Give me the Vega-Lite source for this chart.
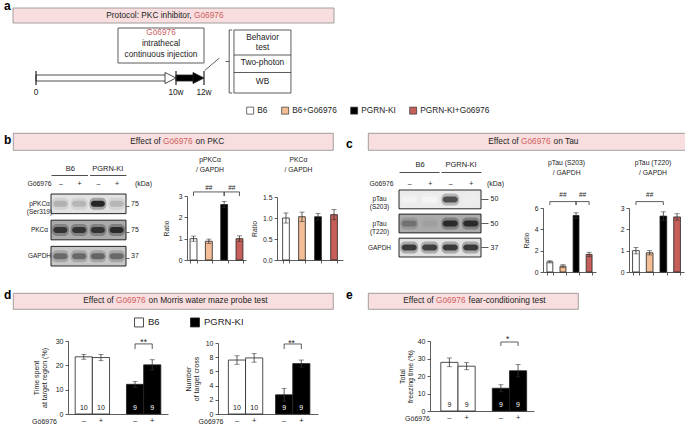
{
  "$schema": "https://vega.github.io/schema/vega-lite/v6.json",
  "background": "white",
  "padding": {"left": 3, "top": 0, "right": 0, "bottom": 0},
  "spacing": 6,
  "config": {
    "font": "Liberation Sans",
    "view": {"stroke": null},
    "axis": {"labelFont": "Liberation Sans", "titleFont": "Liberation Sans", "labelFontSize": 6.8, "titleFontSize": 6.8, "titleFontWeight": "normal", "labelColor": "#222", "titleColor": "#222", "domainColor": "#333", "tickColor": "#333", "domainWidth": 0.8, "tickWidth": 0.8, "tickSize": 3, "labelPadding": 2, "grid": false},
    "title": {"font": "Liberation Sans", "fontSize": 6.8, "fontWeight": "normal", "color": "#222", "lineHeight": 10},
    "legend": {"labelFont": "Liberation Sans", "labelColor": "#222"},
    "text": {"font": "Liberation Sans", "fontSize": 8.3, "color": "#222"}
  },
  "datasets": {
    "legend_groups": [{"group": "B6"}, {"group": "B6+Gö6976"}, {"group": "PGRN-KI"}, {"group": "PGRN-KI+Gö6976"}],
    "phases": [{"phase": "pre-treatment", "start": 0, "end": 10}, {"phase": "Gö6976 infusion", "start": 10, "end": 12}],
    "milestones": [{"week": 0, "label": "0"}, {"week": 10, "label": "10w"}, {"week": 12, "label": "12w"}],
    "protocol": [{"panel": "a", "title": "Protocol: PKC inhibitor,", "drug": "Gö6976", "route": "intrathecal\ncontinuous injection", "readout1": "Behavior\ntest", "readout2": "Two-photon", "readout3": "WB"}],
    "blotB_membranes": [{"protein": "pPKCα (Ser319)", "background": 0.1}, {"protein": "PKCα", "background": 0.3}, {"protein": "GAPDH", "background": 0.2}],
    "blotB": [
      {"protein": "pPKCα (Ser319)", "lane": 1, "signal": 0.3}, {"protein": "pPKCα (Ser319)", "lane": 2, "signal": 0.28}, {"protein": "pPKCα (Ser319)", "lane": 3, "signal": 0.95}, {"protein": "pPKCα (Ser319)", "lane": 4, "signal": 0.28},
      {"protein": "PKCα", "lane": 1, "signal": 0.85}, {"protein": "PKCα", "lane": 2, "signal": 0.85}, {"protein": "PKCα", "lane": 3, "signal": 0.85}, {"protein": "PKCα", "lane": 4, "signal": 0.9},
      {"protein": "GAPDH", "lane": 1, "signal": 0.6}, {"protein": "GAPDH", "lane": 2, "signal": 0.6}, {"protein": "GAPDH", "lane": 3, "signal": 0.62}, {"protein": "GAPDH", "lane": 4, "signal": 0.6}
    ],
    "blotC_membranes": [{"protein": "pTau (S203)", "background": 0.07}, {"protein": "pTau (T220)", "background": 0.3}, {"protein": "GAPDH", "background": 0.1}],
    "blotC": [
      {"protein": "pTau (S203)", "lane": 1, "signal": 0.04}, {"protein": "pTau (S203)", "lane": 2, "signal": 0.03}, {"protein": "pTau (S203)", "lane": 3, "signal": 0.75}, {"protein": "pTau (S203)", "lane": 4, "signal": 0.06},
      {"protein": "pTau (T220)", "lane": 1, "signal": 0.55}, {"protein": "pTau (T220)", "lane": 2, "signal": 0.35}, {"protein": "pTau (T220)", "lane": 3, "signal": 0.9}, {"protein": "pTau (T220)", "lane": 4, "signal": 0.9},
      {"protein": "GAPDH", "lane": 1, "signal": 0.85}, {"protein": "GAPDH", "lane": 2, "signal": 0.82}, {"protein": "GAPDH", "lane": 3, "signal": 0.85}, {"protein": "GAPDH", "lane": 4, "signal": 0.85}
    ],
    "pPKC": [{"group": "B6", "ratio": 1.0, "sem": 0.12}, {"group": "B6+Gö6976", "ratio": 0.88, "sem": 0.1}, {"group": "PGRN-KI", "ratio": 2.6, "sem": 0.15}, {"group": "PGRN-KI+Gö6976", "ratio": 1.0, "sem": 0.13}],
    "PKC": [{"group": "B6", "ratio": 1.0, "sem": 0.12}, {"group": "B6+Gö6976", "ratio": 1.03, "sem": 0.11}, {"group": "PGRN-KI", "ratio": 1.03, "sem": 0.08}, {"group": "PGRN-KI+Gö6976", "ratio": 1.08, "sem": 0.12}],
    "S203": [{"group": "B6", "ratio": 0.95, "sem": 0.1}, {"group": "B6+Gö6976", "ratio": 0.55, "sem": 0.13}, {"group": "PGRN-KI", "ratio": 5.3, "sem": 0.25}, {"group": "PGRN-KI+Gö6976", "ratio": 1.65, "sem": 0.2}],
    "T220": [{"group": "B6", "ratio": 1.0, "sem": 0.15}, {"group": "B6+Gö6976", "ratio": 0.9, "sem": 0.1}, {"group": "PGRN-KI", "ratio": 2.62, "sem": 0.2}, {"group": "PGRN-KI+Gö6976", "ratio": 2.58, "sem": 0.15}],
    "mwm_time": [{"genotype": "B6", "treatment": "–", "value": 23.5, "sem": 1.0, "n": 10}, {"genotype": "B6", "treatment": "+", "value": 23.2, "sem": 1.3, "n": 10}, {"genotype": "PGRN-KI", "treatment": "–", "value": 12.2, "sem": 1.2, "n": 9}, {"genotype": "PGRN-KI", "treatment": "+", "value": 20.2, "sem": 2.1, "n": 9}],
    "mwm_cross": [{"genotype": "B6", "treatment": "–", "value": 7.6, "sem": 0.6, "n": 10}, {"genotype": "B6", "treatment": "+", "value": 7.9, "sem": 0.6, "n": 10}, {"genotype": "PGRN-KI", "treatment": "–", "value": 2.7, "sem": 0.9, "n": 9}, {"genotype": "PGRN-KI", "treatment": "+", "value": 7.1, "sem": 0.5, "n": 9}],
    "freezing": [{"genotype": "B6", "treatment": "–", "value": 27.8, "sem": 2.5, "n": 9}, {"genotype": "B6", "treatment": "+", "value": 25.6, "sem": 2.0, "n": 9}, {"genotype": "PGRN-KI", "treatment": "–", "value": 13.0, "sem": 2.0, "n": 9}, {"genotype": "PGRN-KI", "treatment": "+", "value": 23.0, "sem": 3.5, "n": 9}]
  },
  "vconcat": [
    {
      "width": 279, "height": 118,
      "layer": [
        {"data": {"name": "protocol"}, "mark": {"type": "rect", "fill": "#f8dede", "stroke": "#8a8a8a", "strokeWidth": 0.8},
         "encoding": {"x": {"datum": -1.6429, "type": "quantitative", "scale": {"domain": [-1.6429, 18.2857], "nice": false, "zero": false}, "axis": null}, "x2": {"datum": 21.286},
           "y": {"datum": 14.0, "type": "quantitative", "scale": {"domain": [-9.6, 14.0], "nice": false, "zero": false}, "axis": null}, "y2": {"datum": 11.0}}},
        {"data": {"name": "protocol"}, "mark": {"type": "text", "align": "left", "baseline": "alphabetic", "fontSize": 12, "fontWeight": "bold", "color": "#000"},
         "encoding": {"x": {"datum": -2.286, "type": "quantitative", "axis": null}, "y": {"datum": 13.6, "type": "quantitative", "axis": null}, "text": {"field": "panel"}}},
        {"data": {"name": "protocol"}, "mark": {"type": "text", "align": "right", "baseline": "middle"},
         "encoding": {"x": {"datum": 11.114, "type": "quantitative", "axis": null}, "y": {"datum": 12.5, "type": "quantitative", "axis": null}, "text": {"field": "title"}}},
        {"data": {"name": "protocol"}, "mark": {"type": "text", "align": "left", "baseline": "middle", "color": "#d05f5f"},
         "encoding": {"x": {"datum": 11.286, "type": "quantitative", "axis": null}, "y": {"datum": 12.5, "type": "quantitative", "axis": null}, "text": {"field": "drug"}}},
        {"data": {"name": "phases"}, "mark": {"type": "rect", "stroke": "#222", "strokeWidth": 0.8, "x2Offset": -8},
         "encoding": {"x": {"field": "start", "type": "quantitative", "axis": null}, "x2": {"field": "end"},
           "y": {"datum": -0.6, "type": "quantitative", "axis": null}, "y2": {"datum": 0.6},
           "fill": {"field": "phase", "type": "nominal", "scale": {"domain": ["pre-treatment", "Gö6976 infusion"], "range": ["#ffffff", "#000000"]}, "legend": null}}},
        {"data": {"name": "phases"}, "mark": {"type": "point", "shape": "M-1,-1L1,0L-1,1Z", "size": 121, "filled": true, "opacity": 1, "stroke": "#222", "strokeWidth": 0.8, "xOffset": -5.5},
         "encoding": {"x": {"field": "end", "type": "quantitative", "axis": null}, "y": {"datum": 0, "type": "quantitative", "axis": null}, "fill": {"field": "phase", "type": "nominal", "legend": null}}},
        {"data": {"name": "milestones"}, "mark": {"type": "rule", "color": "#222", "strokeWidth": 1.2},
         "encoding": {"x": {"field": "week", "type": "quantitative", "axis": null}, "y": {"datum": -1.4, "type": "quantitative", "axis": null}, "y2": {"datum": 1.4}}},
        {"data": {"name": "milestones"}, "mark": {"type": "text", "baseline": "middle"},
         "encoding": {"x": {"field": "week", "type": "quantitative", "axis": null}, "y": {"datum": -3.0, "type": "quantitative", "axis": null}, "text": {"field": "label"}}},
        {"data": {"name": "protocol"}, "mark": {"type": "rect", "fill": "#ffffff", "stroke": "#333", "strokeWidth": 0.8},
         "encoding": {"x": {"datum": 5.857, "type": "quantitative", "axis": null}, "x2": {"datum": 12.0}, "y": {"datum": 10.0, "type": "quantitative", "axis": null}, "y2": {"datum": 3.0}}},
        {"data": {"name": "protocol"}, "mark": {"type": "text", "baseline": "middle", "color": "#d05f5f"},
         "encoding": {"x": {"datum": 8.93, "type": "quantitative", "axis": null}, "y": {"datum": 9.0, "type": "quantitative", "axis": null}, "text": {"field": "drug"}}},
        {"data": {"name": "protocol"}, "mark": {"type": "text", "baseline": "middle", "lineBreak": "\n", "lineHeight": 11},
         "encoding": {"x": {"datum": 8.93, "type": "quantitative", "axis": null}, "y": {"datum": 6.8, "type": "quantitative", "axis": null}, "text": {"field": "route"}}},
        {"data": {"name": "protocol"}, "mark": {"type": "rect", "fill": "#ffffff", "stroke": "#333", "strokeWidth": 0.8},
         "encoding": {"x": {"datum": 14.14, "type": "quantitative", "axis": null}, "x2": {"datum": 18.21}, "y": {"datum": 9.6, "type": "quantitative", "axis": null}, "y2": {"datum": -3.0}}},
        {"data": {"name": "protocol"}, "mark": {"type": "rule", "color": "#333", "strokeWidth": 0.8},
         "encoding": {"x": {"datum": 14.14, "type": "quantitative", "axis": null}, "x2": {"datum": 18.21}, "y": {"datum": 4.6, "type": "quantitative", "axis": null}}},
        {"data": {"name": "protocol"}, "mark": {"type": "rule", "color": "#333", "strokeWidth": 0.8},
         "encoding": {"x": {"datum": 14.14, "type": "quantitative", "axis": null}, "x2": {"datum": 18.21}, "y": {"datum": 1.1, "type": "quantitative", "axis": null}}},
        {"data": {"name": "protocol"}, "mark": {"type": "text", "baseline": "middle", "lineBreak": "\n", "lineHeight": 10},
         "encoding": {"x": {"datum": 16.18, "type": "quantitative", "axis": null}, "y": {"datum": 8.0, "type": "quantitative", "axis": null}, "text": {"field": "readout1"}}},
        {"data": {"name": "protocol"}, "mark": {"type": "text", "baseline": "middle"},
         "encoding": {"x": {"datum": 16.18, "type": "quantitative", "axis": null}, "y": {"datum": 3.0, "type": "quantitative", "axis": null}, "text": {"field": "readout2"}}},
        {"data": {"name": "protocol"}, "mark": {"type": "text", "baseline": "middle"},
         "encoding": {"x": {"datum": 16.18, "type": "quantitative", "axis": null}, "y": {"datum": -0.7, "type": "quantitative", "axis": null}, "text": {"field": "readout3"}}},
        {"data": {"name": "protocol"}, "mark": {"type": "rule", "color": "#333", "strokeWidth": 0.8},
         "encoding": {"x": {"datum": 13.8, "type": "quantitative", "axis": null}, "y": {"datum": 9.6, "type": "quantitative", "axis": null}, "y2": {"datum": -3.0}}},
        {"data": {"name": "protocol"}, "mark": {"type": "rule", "color": "#333", "strokeWidth": 0.8},
         "encoding": {"x": {"datum": 13.8, "type": "quantitative", "axis": null}, "x2": {"datum": 14.02}, "y": {"datum": 9.6, "type": "quantitative", "axis": null}}},
        {"data": {"name": "protocol"}, "mark": {"type": "rule", "color": "#333", "strokeWidth": 0.8},
         "encoding": {"x": {"datum": 13.8, "type": "quantitative", "axis": null}, "x2": {"datum": 14.02}, "y": {"datum": -3.0, "type": "quantitative", "axis": null}}},
        {"data": {"name": "protocol"}, "mark": {"type": "rule", "color": "#333", "strokeWidth": 0.8},
         "encoding": {"x": {"datum": 13.55, "type": "quantitative", "axis": null}, "x2": {"datum": 13.8}, "y": {"datum": 3.3, "type": "quantitative", "axis": null}}},
        {"data": {"name": "protocol"}, "mark": {"type": "rule", "color": "#333", "strokeWidth": 0.8},
         "encoding": {"x": {"datum": 12.05, "type": "quantitative", "axis": null}, "x2": {"datum": 13.1}, "y": {"datum": 1.5, "type": "quantitative", "axis": null}, "y2": {"datum": 4.0}}},
        {"data": {"name": "legend_groups"}, "mark": {"type": "square", "opacity": 0, "size": 49},
         "encoding": {"x": {"datum": 0, "type": "quantitative", "axis": null}, "y": {"datum": 0, "type": "quantitative", "axis": null},
           "color": {"field": "group", "type": "nominal", "scale": {"domain": ["B6", "B6+Gö6976", "PGRN-KI", "PGRN-KI+Gö6976"], "range": ["#ffffff", "#f3bd95", "#000000", "#c65f5a"]},
             "legend": {"orient": "none", "legendX": 233, "legendY": 98, "direction": "horizontal", "title": null, "symbolType": "square", "symbolSize": 49, "symbolStrokeColor": "#333", "symbolStrokeWidth": 0.7, "symbolOpacity": 1, "labelFontSize": 8.3, "labelOffset": 3, "columnPadding": 12}}}}
      ]
    },
    {
      "hconcat": [
        {
          "width": 320, "height": 17,
          "view": {"fill": "#f8dede", "stroke": "#8a8a8a", "strokeWidth": 0.8},
          "data": {"values": [{"panel": "b", "prefix": "Effect of", "drug": "Gö6976", "suffix": "on PKC"}]},
          "layer": [
            {"mark": {"type": "text", "align": "left", "baseline": "alphabetic", "fontSize": 12, "fontWeight": "bold", "color": "#000"},
             "encoding": {"text": {"field": "panel"}, "x": {"datum": -0.0281, "type": "quantitative", "scale": {"domain": [0, 1], "nice": false, "zero": false}, "axis": null}, "y": {"datum": 0.37, "type": "quantitative", "scale": {"domain": [0, 1], "nice": false, "zero": false}, "axis": null}}},
            {"mark": {"type": "text", "align": "right", "baseline": "middle"},
             "encoding": {"text": {"field": "prefix"}, "x": {"datum": 0.4613, "type": "quantitative", "axis": null}, "y": {"datum": 0.5, "type": "quantitative", "axis": null}}},
            {"mark": {"type": "text", "align": "left", "baseline": "middle", "color": "#d05f5f"},
             "encoding": {"text": {"field": "drug"}, "x": {"datum": 0.46875, "type": "quantitative", "axis": null}, "y": {"datum": 0.5, "type": "quantitative", "axis": null}}},
            {"mark": {"type": "text", "align": "left", "baseline": "middle"},
             "encoding": {"text": {"field": "suffix"}, "x": {"datum": 0.5706, "type": "quantitative", "axis": null}, "y": {"datum": 0.5, "type": "quantitative", "axis": null}}}
          ]
        },
        {
          "width": 320, "height": 17,
          "view": {"fill": "#f8dede", "stroke": "#8a8a8a", "strokeWidth": 0.8},
          "data": {"values": [{"panel": "c", "prefix": "Effect of", "drug": "Gö6976", "suffix": "on Tau"}]},
          "layer": [
            {"mark": {"type": "text", "align": "left", "baseline": "alphabetic", "fontSize": 12, "fontWeight": "bold", "color": "#000"},
             "encoding": {"text": {"field": "panel"}, "x": {"datum": -0.06875, "type": "quantitative", "scale": {"domain": [0, 1], "nice": false, "zero": false}, "axis": null}, "y": {"datum": 0.12, "type": "quantitative", "scale": {"domain": [0, 1], "nice": false, "zero": false}, "axis": null}}},
            {"mark": {"type": "text", "align": "right", "baseline": "middle"},
             "encoding": {"text": {"field": "prefix"}, "x": {"datum": 0.4706, "type": "quantitative", "axis": null}, "y": {"datum": 0.5, "type": "quantitative", "axis": null}}},
            {"mark": {"type": "text", "align": "left", "baseline": "middle", "color": "#d05f5f"},
             "encoding": {"text": {"field": "drug"}, "x": {"datum": 0.4781, "type": "quantitative", "axis": null}, "y": {"datum": 0.5, "type": "quantitative", "axis": null}}},
            {"mark": {"type": "text", "align": "left", "baseline": "middle"},
             "encoding": {"text": {"field": "suffix"}, "x": {"datum": 0.58, "type": "quantitative", "axis": null}, "y": {"datum": 0.5, "type": "quantitative", "axis": null}}}
          ]
        }
      ],
      "spacing": 11
    },
    {
      "hconcat": [
        {
          "width": 147, "height": 98,
          "resolve": {"scale": {"x": "independent", "y": "independent"}},
          "layer": [
            {"data": {"name": "blotB_membranes"}, "mark": {"type": "rect", "stroke": "#111", "strokeWidth": 0.9},
             "encoding": {
               "x": {"datum": 0.5, "type": "quantitative", "scale": {"domain": [0.5, 4.5], "range": [38, 113], "nice": false, "zero": false},
                 "axis": {"orient": "top", "values": [1.5, 3.5], "labelExpr": "datum.value < 2.5 ? 'B6' : 'PGRN-KI'", "offset": 9, "ticks": false, "tickSize": 0, "domain": true, "domainColor": "#222", "domainDash": [36.5, 2], "labelPadding": 2.7, "labelFontSize": 7.5, "title": null}},
               "x2": {"datum": 4.5},
               "y": {"field": "protein", "type": "nominal", "sort": null, "scale": {"domain": ["pPKCα (Ser319)", "PKCα", "GAPDH"], "range": [10, 82], "paddingInner": 0.25, "paddingOuter": 0},
                 "axis": {"orient": "left", "offset": -38, "ticks": false, "tickSize": 0, "domain": false, "labelAlign": "center", "labelPadding": 12, "labelFontSize": 6.5, "labelExpr": "split(datum.value, ' ')", "labelLineHeight": 8, "title": null}},
               "fill": {"field": "background", "type": "quantitative", "scale": {"domain": [0, 1], "range": ["#ffffff", "#000000"]}, "legend": null}}},
            {"data": {"name": "blotB"}, "mark": {"type": "tick", "thickness": 17, "size": 12, "opacity": 0.3, "cornerRadius": 5},
             "encoding": {
               "x": {"field": "lane", "type": "quantitative", "scale": {"domain": [0.5, 4.5], "range": [38, 113], "nice": false, "zero": false}, "axis": null},
               "y": {"field": "protein", "type": "nominal", "sort": null, "scale": {"domain": ["pPKCα (Ser319)", "PKCα", "GAPDH"], "range": [10, 82], "paddingInner": 0.25, "paddingOuter": 0}, "axis": null},
               "color": {"field": "signal", "type": "quantitative", "scale": {"domain": [0, 1], "range": ["#ffffff", "#000000"]}, "legend": null}}},
            {"data": {"name": "blotB"}, "mark": {"type": "tick", "thickness": 14, "size": 6, "opacity": 0.85, "cornerRadius": 3},
             "encoding": {
               "x": {"field": "lane", "type": "quantitative", "scale": {"domain": [0.5, 4.5], "range": [38, 113], "nice": false, "zero": false},
                 "axis": {"orient": "top", "values": [1, 2, 3, 4], "labelExpr": "datum.value % 2 == 1 ? '–' : '+'", "offset": -4.3, "ticks": false, "tickSize": 0, "domain": false, "labelPadding": 2, "labelFontSize": 7, "title": "Gö6976", "titleFontSize": 6.8, "titleAngle": 0, "titleX": 26, "titleY": -5.3, "titleAlign": "center", "titleBaseline": "middle"}},
               "y": {"field": "protein", "type": "nominal", "sort": null, "scale": {"domain": ["pPKCα (Ser319)", "PKCα", "GAPDH"], "range": [10, 82], "paddingInner": 0.25, "paddingOuter": 0},
                 "axis": {"orient": "right", "offset": -34, "bandPosition": 0.62, "ticks": true, "tickSize": 3, "domain": false, "labelExpr": "datum.value == 'GAPDH' ? '37' : '75'", "labelPadding": 1.5, "labelFontSize": 7, "title": "(kDa)", "titleFontSize": 7, "titleAngle": 0, "titleX": 17, "titleY": -1, "titleAlign": "center", "titleBaseline": "middle"}},
               "color": {"field": "signal", "type": "quantitative", "scale": {"domain": [0, 1], "range": ["#ffffff", "#000000"]}, "legend": null}}}
          ]
        },
        {
          "width": 61, "height": 76,
          "title": {"text": ["pPKCα", "/ GAPDH"], "offset": 10, "frame": "group", "anchor": "middle", "dx": -7.5},
          "data": {"name": "pPKC"},
          "layer": [
            {"mark": {"type": "bar", "stroke": "#222", "strokeWidth": 0.8},
             "encoding": {
               "x": {"field": "group", "type": "nominal", "sort": null, "scale": {"domain": ["B6", "B6+Gö6976", "PGRN-KI", "PGRN-KI+Gö6976"], "range": [0, 59], "paddingInner": 0.55, "paddingOuter": 0.2}, "axis": {"title": null, "labels": false, "tickBand": "extent"}},
               "y": {"field": "ratio", "type": "quantitative", "scale": {"domain": [0, 3], "range": [76, 12], "nice": false}, "axis": {"title": "Ratio", "values": [0, 1, 2, 3], "titlePadding": 8.8}},
               "fill": {"field": "group", "type": "nominal", "scale": {"domain": ["B6", "B6+Gö6976", "PGRN-KI", "PGRN-KI+Gö6976"], "range": ["#ffffff", "#f3bd95", "#000000", "#c65f5a"]}, "legend": null}}},
            {"mark": {"type": "errorbar", "ticks": true, "size": 5, "thickness": 0.8, "color": "#333"},
             "encoding": {"x": {"field": "group", "type": "nominal", "sort": null, "axis": {"title": null, "labels": false, "tickBand": "extent"}}, "y": {"field": "ratio", "type": "quantitative", "axis": {"title": "Ratio", "values": [0, 1, 2, 3], "titlePadding": 8.8}}, "yError": {"field": "sem"}}},
            {"data": {"values": [{"bracket": 1, "step": 1, "group": "B6", "ratio": 3.0}, {"bracket": 1, "step": 2, "group": "B6", "ratio": 3.19}, {"bracket": 1, "step": 3, "group": "PGRN-KI", "ratio": 3.19}, {"bracket": 1, "step": 4, "group": "PGRN-KI", "ratio": 3.0}, {"bracket": 2, "step": 1, "group": "PGRN-KI", "ratio": 3.0}, {"bracket": 2, "step": 2, "group": "PGRN-KI", "ratio": 3.19}, {"bracket": 2, "step": 3, "group": "PGRN-KI+Gö6976", "ratio": 3.19}, {"bracket": 2, "step": 4, "group": "PGRN-KI+Gö6976", "ratio": 3.0}]},
             "mark": {"type": "line", "color": "#333", "strokeWidth": 0.8},
             "encoding": {"x": {"field": "group", "type": "nominal", "sort": null, "axis": {"title": null, "labels": false, "tickBand": "extent"}}, "y": {"field": "ratio", "type": "quantitative", "axis": {"title": "Ratio", "values": [0, 1, 2, 3], "titlePadding": 8.8}}, "detail": {"field": "bracket"}, "order": {"field": "step"}}},
            {"data": {"values": [{"group": "B6+Gö6976", "ratio": 3.375, "label": "##"}]}, "mark": {"type": "text", "fontSize": 6.5},
             "encoding": {"x": {"field": "group", "type": "nominal", "sort": null, "axis": {"title": null, "labels": false, "tickBand": "extent"}}, "y": {"field": "ratio", "type": "quantitative", "axis": {"title": "Ratio", "values": [0, 1, 2, 3], "titlePadding": 8.8}}, "text": {"field": "label"}}},
            {"data": {"values": [{"group": "PGRN-KI", "ratio": 3.375, "label": "##"}]}, "mark": {"type": "text", "fontSize": 6.5},
             "encoding": {"x": {"field": "group", "type": "nominal", "sort": null, "bandPosition": 1.611, "axis": {"title": null, "labels": false, "tickBand": "extent"}}, "y": {"field": "ratio", "type": "quantitative", "axis": {"title": "Ratio", "values": [0, 1, 2, 3], "titlePadding": 8.8}}, "text": {"field": "label"}}}
          ]
        },
        {
          "width": 66, "height": 76,
          "title": {"text": ["PKCα", "/ GAPDH"], "offset": 10, "frame": "group", "anchor": "middle", "dx": -11.5},
          "data": {"name": "PKC"},
          "layer": [
            {"mark": {"type": "bar", "stroke": "#222", "strokeWidth": 0.8},
             "encoding": {
               "x": {"field": "group", "type": "nominal", "sort": null, "scale": {"domain": ["B6", "B6+Gö6976", "PGRN-KI", "PGRN-KI+Gö6976"], "paddingInner": 0.58, "paddingOuter": 0.35}, "axis": {"title": null, "labels": false, "tickBand": "extent"}},
               "y": {"field": "ratio", "type": "quantitative", "scale": {"domain": [0, 1.5], "range": [76, 13], "nice": false}, "axis": {"title": "Ratio", "values": [0, 0.5, 1, 1.5], "titlePadding": 4.75}},
               "fill": {"field": "group", "type": "nominal", "scale": {"domain": ["B6", "B6+Gö6976", "PGRN-KI", "PGRN-KI+Gö6976"], "range": ["#ffffff", "#f3bd95", "#000000", "#c65f5a"]}, "legend": null}}},
            {"mark": {"type": "errorbar", "ticks": true, "size": 5, "thickness": 0.8, "color": "#333"},
             "encoding": {"x": {"field": "group", "type": "nominal", "sort": null, "axis": {"title": null, "labels": false, "tickBand": "extent"}}, "y": {"field": "ratio", "type": "quantitative", "axis": {"title": "Ratio", "values": [0, 0.5, 1, 1.5], "titlePadding": 4.75}}, "yError": {"field": "sem"}}}
          ]
        },
        {
          "width": 174, "height": 98,
          "resolve": {"scale": {"x": "independent", "y": "independent"}},
          "layer": [
            {"data": {"name": "blotC_membranes"}, "mark": {"type": "rect", "stroke": "#111", "strokeWidth": 0.9},
             "encoding": {
               "x": {"datum": 0.5, "type": "quantitative", "scale": {"domain": [0.5, 4.5], "range": [53, 135], "nice": false, "zero": false},
                 "axis": {"orient": "top", "values": [1.5, 3.5], "labelExpr": "datum.value < 2.5 ? 'B6' : 'PGRN-KI'", "offset": 12, "ticks": false, "tickSize": 0, "domain": true, "domainColor": "#222", "domainDash": [40, 2], "labelPadding": 3.7, "labelFontSize": 7.5, "title": null}},
               "x2": {"datum": 4.5},
               "y": {"field": "protein", "type": "nominal", "sort": null, "scale": {"domain": ["pTau (S203)", "pTau (T220)", "GAPDH"], "range": [6, 73], "paddingInner": 0.22, "paddingOuter": 0},
                 "axis": {"orient": "left", "offset": -53, "ticks": false, "tickSize": 0, "domain": false, "labelAlign": "center", "labelPadding": 20, "labelFontSize": 6.5, "labelExpr": "split(datum.value, ' ')", "labelLineHeight": 8, "title": null}},
               "fill": {"field": "background", "type": "quantitative", "scale": {"domain": [0, 1], "range": ["#ffffff", "#000000"]}, "legend": null}}},
            {"data": {"name": "blotC"}, "mark": {"type": "tick", "thickness": 18, "size": 12, "opacity": 0.3, "cornerRadius": 5},
             "encoding": {
               "x": {"field": "lane", "type": "quantitative", "scale": {"domain": [0.5, 4.5], "range": [53, 135], "nice": false, "zero": false}, "axis": null},
               "y": {"field": "protein", "type": "nominal", "sort": null, "scale": {"domain": ["pTau (S203)", "pTau (T220)", "GAPDH"], "range": [6, 73], "paddingInner": 0.22, "paddingOuter": 0}, "axis": null},
               "color": {"field": "signal", "type": "quantitative", "scale": {"domain": [0, 1], "range": ["#ffffff", "#000000"]}, "legend": null}}},
            {"data": {"name": "blotC"}, "mark": {"type": "tick", "thickness": 15, "size": 6, "opacity": 0.85, "cornerRadius": 3},
             "encoding": {
               "x": {"field": "lane", "type": "quantitative", "scale": {"domain": [0.5, 4.5], "range": [53, 135], "nice": false, "zero": false},
                 "axis": {"orient": "top", "values": [1, 2, 3, 4], "labelExpr": "datum.value % 2 == 1 ? '–' : '+'", "offset": -4.3, "ticks": false, "tickSize": 0, "domain": false, "labelPadding": 2, "labelFontSize": 7, "title": "Gö6976", "titleFontSize": 6.8, "titleAngle": 0, "titleX": 35, "titleY": -5.3, "titleAlign": "center", "titleBaseline": "middle"}},
               "y": {"field": "protein", "type": "nominal", "sort": null, "scale": {"domain": ["pTau (S203)", "pTau (T220)", "GAPDH"], "range": [6, 73], "paddingInner": 0.22, "paddingOuter": 0},
                 "axis": {"orient": "right", "offset": -39, "bandPosition": 0.5, "ticks": true, "tickSize": 7, "domain": false, "labelExpr": "datum.value == 'GAPDH' ? '37' : '50'", "labelPadding": 2, "labelFontSize": 7, "title": "(kDa)", "titleFontSize": 7, "titleAngle": 0, "titleX": 14, "titleY": -1, "titleAlign": "center", "titleBaseline": "middle"}},
               "color": {"field": "signal", "type": "quantitative", "scale": {"domain": [0, 1], "range": ["#ffffff", "#000000"]}, "legend": null}}}
          ]
        },
        {
          "width": 74, "height": 88,
          "title": {"text": ["pTau (S203)", "/ GAPDH"], "offset": 7, "frame": "group", "anchor": "middle", "dx": -13.4},
          "data": {"name": "S203"},
          "layer": [
            {"mark": {"type": "bar", "stroke": "#222", "strokeWidth": 0.8},
             "encoding": {
               "x": {"field": "group", "type": "nominal", "sort": null, "scale": {"domain": ["B6", "B6+Gö6976", "PGRN-KI", "PGRN-KI+Gö6976"], "range": [0, 53], "paddingInner": 0.55, "paddingOuter": 0.3}, "axis": {"title": null, "labels": false, "tickBand": "extent"}},
               "y": {"field": "ratio", "type": "quantitative", "scale": {"domain": [0, 6], "range": [88, 24], "nice": false}, "axis": {"title": "Ratio", "values": [0, 2, 4, 6], "titlePadding": 4.8}},
               "fill": {"field": "group", "type": "nominal", "scale": {"domain": ["B6", "B6+Gö6976", "PGRN-KI", "PGRN-KI+Gö6976"], "range": ["#ffffff", "#f3bd95", "#000000", "#c65f5a"]}, "legend": null}}},
            {"mark": {"type": "errorbar", "ticks": true, "size": 5, "thickness": 0.8, "color": "#333"},
             "encoding": {"x": {"field": "group", "type": "nominal", "sort": null, "axis": {"title": null, "labels": false, "tickBand": "extent"}}, "y": {"field": "ratio", "type": "quantitative", "axis": {"title": "Ratio", "values": [0, 2, 4, 6], "titlePadding": 4.8}}, "yError": {"field": "sem"}}},
            {"data": {"values": [{"bracket": 1, "step": 1, "group": "B6", "ratio": 6.28}, {"bracket": 1, "step": 2, "group": "B6", "ratio": 6.6}, {"bracket": 1, "step": 3, "group": "PGRN-KI", "ratio": 6.6}, {"bracket": 1, "step": 4, "group": "PGRN-KI", "ratio": 6.28}, {"bracket": 2, "step": 1, "group": "PGRN-KI", "ratio": 6.28}, {"bracket": 2, "step": 2, "group": "PGRN-KI", "ratio": 6.6}, {"bracket": 2, "step": 3, "group": "PGRN-KI+Gö6976", "ratio": 6.6}, {"bracket": 2, "step": 4, "group": "PGRN-KI+Gö6976", "ratio": 6.28}]},
             "mark": {"type": "line", "color": "#333", "strokeWidth": 0.8},
             "encoding": {"x": {"field": "group", "type": "nominal", "sort": null, "axis": {"title": null, "labels": false, "tickBand": "extent"}}, "y": {"field": "ratio", "type": "quantitative", "axis": {"title": "Ratio", "values": [0, 2, 4, 6], "titlePadding": 4.8}}, "detail": {"field": "bracket"}, "order": {"field": "step"}}},
            {"data": {"values": [{"group": "B6+Gö6976", "ratio": 7.2, "label": "##"}]}, "mark": {"type": "text", "fontSize": 6.5},
             "encoding": {"x": {"field": "group", "type": "nominal", "sort": null, "axis": {"title": null, "labels": false, "tickBand": "extent"}}, "y": {"field": "ratio", "type": "quantitative", "axis": {"title": "Ratio", "values": [0, 2, 4, 6], "titlePadding": 4.8}}, "text": {"field": "label"}}},
            {"data": {"values": [{"group": "PGRN-KI", "ratio": 7.2, "label": "##"}]}, "mark": {"type": "text", "fontSize": 6.5},
             "encoding": {"x": {"field": "group", "type": "nominal", "sort": null, "bandPosition": 1.611, "axis": {"title": null, "labels": false, "tickBand": "extent"}}, "y": {"field": "ratio", "type": "quantitative", "axis": {"title": "Ratio", "values": [0, 2, 4, 6], "titlePadding": 4.8}}, "text": {"field": "label"}}}
          ]
        },
        {
          "width": 55, "height": 88,
          "title": {"text": ["pTau (T220)", "/ GAPDH"], "offset": 7, "frame": "group", "anchor": "middle", "dx": -3.5},
          "data": {"name": "T220"},
          "layer": [
            {"mark": {"type": "bar", "stroke": "#222", "strokeWidth": 0.8},
             "encoding": {
               "x": {"field": "group", "type": "nominal", "sort": null, "scale": {"domain": ["B6", "B6+Gö6976", "PGRN-KI", "PGRN-KI+Gö6976"], "paddingInner": 0.51, "paddingOuter": 0.26}, "axis": {"title": null, "labels": false, "tickBand": "extent"}},
               "y": {"field": "ratio", "type": "quantitative", "scale": {"domain": [0, 3], "range": [88, 24], "nice": false}, "axis": {"title": null, "values": [0, 1, 2, 3]}},
               "fill": {"field": "group", "type": "nominal", "scale": {"domain": ["B6", "B6+Gö6976", "PGRN-KI", "PGRN-KI+Gö6976"], "range": ["#ffffff", "#f3bd95", "#000000", "#c65f5a"]}, "legend": null}}},
            {"mark": {"type": "errorbar", "ticks": true, "size": 5, "thickness": 0.8, "color": "#333"},
             "encoding": {"x": {"field": "group", "type": "nominal", "sort": null, "axis": {"title": null, "labels": false, "tickBand": "extent"}}, "y": {"field": "ratio", "type": "quantitative", "axis": {"title": null, "values": [0, 1, 2, 3]}}, "yError": {"field": "sem"}}},
            {"data": {"values": [{"bracket": 1, "step": 1, "group": "B6", "ratio": 3.14}, {"bracket": 1, "step": 2, "group": "B6", "ratio": 3.3}, {"bracket": 1, "step": 3, "group": "PGRN-KI", "ratio": 3.3}, {"bracket": 1, "step": 4, "group": "PGRN-KI", "ratio": 3.14}]},
             "mark": {"type": "line", "color": "#333", "strokeWidth": 0.8},
             "encoding": {"x": {"field": "group", "type": "nominal", "sort": null, "axis": {"title": null, "labels": false, "tickBand": "extent"}}, "y": {"field": "ratio", "type": "quantitative", "axis": {"title": null, "values": [0, 1, 2, 3]}}, "detail": {"field": "bracket"}, "order": {"field": "step"}}},
            {"data": {"values": [{"group": "B6+Gö6976", "ratio": 3.6, "label": "##"}]}, "mark": {"type": "text", "fontSize": 6.5},
             "encoding": {"x": {"field": "group", "type": "nominal", "sort": null, "axis": {"title": null, "labels": false, "tickBand": "extent"}}, "y": {"field": "ratio", "type": "quantitative", "axis": {"title": null, "values": [0, 1, 2, 3]}}, "text": {"field": "label"}}}
          ]
        }
      ],
      "spacing": 3
    },
    {
      "hconcat": [
        {
          "width": 320, "height": 16,
          "view": {"fill": "#f8dede", "stroke": "#8a8a8a", "strokeWidth": 0.8},
          "data": {"values": [{"panel": "d", "prefix": "Effect of", "drug": "Gö6976", "suffix": "on Morris water maze probe test"}]},
          "layer": [
            {"mark": {"type": "text", "align": "left", "baseline": "alphabetic", "fontSize": 12, "fontWeight": "bold", "color": "#000"},
             "encoding": {"text": {"field": "panel"}, "x": {"datum": -0.0281, "type": "quantitative", "scale": {"domain": [0, 1], "nice": false, "zero": false}, "axis": null}, "y": {"datum": 0.625, "type": "quantitative", "scale": {"domain": [0, 1], "nice": false, "zero": false}, "axis": null}}},
            {"mark": {"type": "text", "align": "right", "baseline": "middle"},
             "encoding": {"text": {"field": "prefix"}, "x": {"datum": 0.3144, "type": "quantitative", "axis": null}, "y": {"datum": 0.5, "type": "quantitative", "axis": null}}},
            {"mark": {"type": "text", "align": "left", "baseline": "middle", "color": "#d05f5f"},
             "encoding": {"text": {"field": "drug"}, "x": {"datum": 0.3219, "type": "quantitative", "axis": null}, "y": {"datum": 0.5, "type": "quantitative", "axis": null}}},
            {"mark": {"type": "text", "align": "left", "baseline": "middle"},
             "encoding": {"text": {"field": "suffix"}, "x": {"datum": 0.4238, "type": "quantitative", "axis": null}, "y": {"datum": 0.5, "type": "quantitative", "axis": null}}},
            {"data": {"values": [{"genotype": "B6"}, {"genotype": "PGRN-KI"}]}, "mark": {"type": "square", "opacity": 0, "size": 81},
             "encoding": {"x": {"datum": 0.5, "type": "quantitative", "axis": null}, "y": {"datum": 0.5, "type": "quantitative", "axis": null},
               "color": {"field": "genotype", "type": "nominal", "scale": {"domain": ["B6", "PGRN-KI"], "range": ["#ffffff", "#000000"]},
                 "legend": {"orient": "none", "legendX": 121, "legendY": 24, "direction": "horizontal", "title": null, "symbolType": "square", "symbolSize": 81, "symbolStrokeColor": "#222", "symbolStrokeWidth": 0.8, "symbolOpacity": 1, "labelFontSize": 9.5, "labelOffset": 4, "columnPadding": 28}}}}
          ]
        },
        {
          "width": 210, "height": 16,
          "view": {"fill": "#f8dede", "stroke": "#8a8a8a", "strokeWidth": 0.8},
          "data": {"values": [{"panel": "e", "prefix": "Effect of", "drug": "Gö6976", "suffix": "fear-conditioning test"}]},
          "layer": [
            {"mark": {"type": "text", "align": "left", "baseline": "alphabetic", "fontSize": 12, "fontWeight": "bold", "color": "#000"},
             "encoding": {"text": {"field": "panel"}, "x": {"datum": -0.1048, "type": "quantitative", "scale": {"domain": [0, 1], "nice": false, "zero": false}, "axis": null}, "y": {"datum": 0.625, "type": "quantitative", "scale": {"domain": [0, 1], "nice": false, "zero": false}, "axis": null}}},
            {"mark": {"type": "text", "align": "right", "baseline": "middle"},
             "encoding": {"text": {"field": "prefix"}, "x": {"datum": 0.3124, "type": "quantitative", "axis": null}, "y": {"datum": 0.5, "type": "quantitative", "axis": null}}},
            {"mark": {"type": "text", "align": "left", "baseline": "middle", "color": "#d05f5f"},
             "encoding": {"text": {"field": "drug"}, "x": {"datum": 0.3238, "type": "quantitative", "axis": null}, "y": {"datum": 0.5, "type": "quantitative", "axis": null}}},
            {"mark": {"type": "text", "align": "left", "baseline": "middle"},
             "encoding": {"text": {"field": "suffix"}, "x": {"datum": 0.479, "type": "quantitative", "axis": null}, "y": {"datum": 0.5, "type": "quantitative", "axis": null}}}
          ]
        }
      ],
      "spacing": 11
    },
    {
      "hconcat": [
        {
          "width": 168, "height": 73,
          "data": {"name": "mwm_time"},
          "layer": [
            {"mark": {"type": "bar", "stroke": "#222", "strokeWidth": 0.8},
             "encoding": {
               "x": {"field": "genotype", "type": "nominal", "sort": null, "scale": {"domain": ["B6", "PGRN-KI"], "range": [55, 155], "paddingInner": 0.33, "paddingOuter": 0.14},
                 "axis": {"title": "Gö6976", "titleFontSize": 7, "labels": false, "ticks": false, "titleAngle": 0, "titleX": 31, "titleY": 7, "titleAlign": "center", "titleBaseline": "middle"}},
               "xOffset": {"field": "treatment", "type": "nominal", "sort": null, "scale": {"domain": ["–", "+"], "paddingInner": 0, "paddingOuter": 0}},
               "y": {"field": "value", "type": "quantitative", "scale": {"domain": [0, 30], "nice": false}, "axis": {"title": ["Time spent", "at target region (%)"], "titleFontSize": 7, "titleLineHeight": 8, "labelFontSize": 7, "values": [0, 10, 20, 30], "offset": -55, "titlePadding": 7.7}},
               "fill": {"field": "genotype", "type": "nominal", "scale": {"domain": ["B6", "PGRN-KI"], "range": ["#ffffff", "#000000"]}, "legend": null}}},
            {"mark": {"type": "errorbar", "ticks": true, "size": 5, "thickness": 0.8, "color": "#333"},
             "encoding": {"x": {"field": "genotype", "type": "nominal", "sort": null, "axis": {"title": "Gö6976", "titleFontSize": 7, "labels": false, "ticks": false, "titleAngle": 0, "titleX": 31, "titleY": 7, "titleAlign": "center", "titleBaseline": "middle"}}, "xOffset": {"field": "treatment", "type": "nominal", "sort": null}, "y": {"field": "value", "type": "quantitative", "axis": {"title": ["Time spent", "at target region (%)"], "titleFontSize": 7, "titleLineHeight": 8, "labelFontSize": 7, "values": [0, 10, 20, 30], "offset": -55, "titlePadding": 7.7}}, "yError": {"field": "sem"}}},
            {"mark": {"type": "text", "baseline": "bottom", "dy": -3.5, "fontSize": 7},
             "encoding": {"x": {"field": "genotype", "type": "nominal", "sort": null, "axis": {"title": "Gö6976", "titleFontSize": 7, "labels": false, "ticks": false, "titleAngle": 0, "titleX": 31, "titleY": 7, "titleAlign": "center", "titleBaseline": "middle"}}, "xOffset": {"field": "treatment", "type": "nominal", "sort": null}, "y": {"datum": 0, "type": "quantitative", "axis": {"title": ["Time spent", "at target region (%)"], "titleFontSize": 7, "titleLineHeight": 8, "labelFontSize": 7, "values": [0, 10, 20, 30], "offset": -55, "titlePadding": 7.7}}, "text": {"field": "n"},
               "color": {"field": "genotype", "type": "nominal", "scale": {"domain": ["B6", "PGRN-KI"], "range": ["#111111", "#ffffff"]}, "legend": null}}},
            {"mark": {"type": "text", "baseline": "middle", "dy": 7, "fontSize": 7.5},
             "encoding": {"x": {"field": "genotype", "type": "nominal", "sort": null, "axis": {"title": "Gö6976", "titleFontSize": 7, "labels": false, "ticks": false, "titleAngle": 0, "titleX": 31, "titleY": 7, "titleAlign": "center", "titleBaseline": "middle"}}, "xOffset": {"field": "treatment", "type": "nominal", "sort": null}, "y": {"datum": 0, "type": "quantitative", "axis": {"title": ["Time spent", "at target region (%)"], "titleFontSize": 7, "titleLineHeight": 8, "labelFontSize": 7, "values": [0, 10, 20, 30], "offset": -55, "titlePadding": 7.7}}, "text": {"field": "treatment"}}},
            {"data": {"values": [{"genotype": "PGRN-KI", "treatment": "–", "step": 1, "value": 26.7}, {"genotype": "PGRN-KI", "treatment": "–", "step": 2, "value": 28.8}, {"genotype": "PGRN-KI", "treatment": "+", "step": 3, "value": 28.8}, {"genotype": "PGRN-KI", "treatment": "+", "step": 4, "value": 26.7}]},
             "mark": {"type": "line", "color": "#333", "strokeWidth": 0.8},
             "encoding": {"x": {"field": "genotype", "type": "nominal", "sort": null, "axis": {"title": "Gö6976", "titleFontSize": 7, "labels": false, "ticks": false, "titleAngle": 0, "titleX": 31, "titleY": 7, "titleAlign": "center", "titleBaseline": "middle"}}, "xOffset": {"field": "treatment", "type": "nominal", "sort": null}, "y": {"field": "value", "type": "quantitative", "axis": {"title": ["Time spent", "at target region (%)"], "titleFontSize": 7, "titleLineHeight": 8, "labelFontSize": 7, "values": [0, 10, 20, 30], "offset": -55, "titlePadding": 7.7}}, "order": {"field": "step"}}},
            {"data": {"values": [{"genotype": "PGRN-KI", "value": 29.4, "label": "**"}]}, "mark": {"type": "text", "fontSize": 8.5},
             "encoding": {"x": {"field": "genotype", "type": "nominal", "sort": null, "axis": {"title": "Gö6976", "titleFontSize": 7, "labels": false, "ticks": false, "titleAngle": 0, "titleX": 31, "titleY": 7, "titleAlign": "center", "titleBaseline": "middle"}}, "y": {"field": "value", "type": "quantitative", "axis": {"title": ["Time spent", "at target region (%)"], "titleFontSize": 7, "titleLineHeight": 8, "labelFontSize": 7, "values": [0, 10, 20, 30], "offset": -55, "titlePadding": 7.7}}, "text": {"field": "label"}}}
          ]
        },
        {
          "width": 177, "height": 73,
          "data": {"name": "mwm_cross"},
          "layer": [
            {"mark": {"type": "bar", "stroke": "#222", "strokeWidth": 0.8},
             "encoding": {
               "x": {"field": "genotype", "type": "nominal", "sort": null, "scale": {"domain": ["B6", "PGRN-KI"], "range": [0, 100], "paddingInner": 0.32, "paddingOuter": 0.22},
                 "axis": {"title": "Gö6976", "titleFontSize": 7, "labels": false, "ticks": false, "titleAngle": 0, "titleX": -7.5, "titleY": 7, "titleAlign": "center", "titleBaseline": "middle"}},
               "xOffset": {"field": "treatment", "type": "nominal", "sort": null, "scale": {"domain": ["–", "+"], "paddingInner": 0, "paddingOuter": 0}},
               "y": {"field": "value", "type": "quantitative", "scale": {"domain": [0, 10], "range": [73, 2], "nice": false}, "axis": {"title": ["Number", "of target cross"], "titleFontSize": 7, "titleLineHeight": 8, "labelFontSize": 7, "values": [0, 2, 4, 6, 8, 10], "titlePadding": 5.7}},
               "fill": {"field": "genotype", "type": "nominal", "scale": {"domain": ["B6", "PGRN-KI"], "range": ["#ffffff", "#000000"]}, "legend": null}}},
            {"mark": {"type": "errorbar", "ticks": true, "size": 5, "thickness": 0.8, "color": "#333"},
             "encoding": {"x": {"field": "genotype", "type": "nominal", "sort": null, "axis": {"title": "Gö6976", "titleFontSize": 7, "labels": false, "ticks": false, "titleAngle": 0, "titleX": -7.5, "titleY": 7, "titleAlign": "center", "titleBaseline": "middle"}}, "xOffset": {"field": "treatment", "type": "nominal", "sort": null}, "y": {"field": "value", "type": "quantitative", "axis": {"title": ["Number", "of target cross"], "titleFontSize": 7, "titleLineHeight": 8, "labelFontSize": 7, "values": [0, 2, 4, 6, 8, 10], "titlePadding": 5.7}}, "yError": {"field": "sem"}}},
            {"mark": {"type": "text", "baseline": "bottom", "dy": -3.5, "fontSize": 7},
             "encoding": {"x": {"field": "genotype", "type": "nominal", "sort": null, "axis": {"title": "Gö6976", "titleFontSize": 7, "labels": false, "ticks": false, "titleAngle": 0, "titleX": -7.5, "titleY": 7, "titleAlign": "center", "titleBaseline": "middle"}}, "xOffset": {"field": "treatment", "type": "nominal", "sort": null}, "y": {"datum": 0, "type": "quantitative", "axis": {"title": ["Number", "of target cross"], "titleFontSize": 7, "titleLineHeight": 8, "labelFontSize": 7, "values": [0, 2, 4, 6, 8, 10], "titlePadding": 5.7}}, "text": {"field": "n"},
               "color": {"field": "genotype", "type": "nominal", "scale": {"domain": ["B6", "PGRN-KI"], "range": ["#111111", "#ffffff"]}, "legend": null}}},
            {"mark": {"type": "text", "baseline": "middle", "dy": 7, "fontSize": 7.5},
             "encoding": {"x": {"field": "genotype", "type": "nominal", "sort": null, "axis": {"title": "Gö6976", "titleFontSize": 7, "labels": false, "ticks": false, "titleAngle": 0, "titleX": -7.5, "titleY": 7, "titleAlign": "center", "titleBaseline": "middle"}}, "xOffset": {"field": "treatment", "type": "nominal", "sort": null}, "y": {"datum": 0, "type": "quantitative", "axis": {"title": ["Number", "of target cross"], "titleFontSize": 7, "titleLineHeight": 8, "labelFontSize": 7, "values": [0, 2, 4, 6, 8, 10], "titlePadding": 5.7}}, "text": {"field": "treatment"}}},
            {"data": {"values": [{"genotype": "PGRN-KI", "treatment": "–", "step": 1, "value": 9.15}, {"genotype": "PGRN-KI", "treatment": "–", "step": 2, "value": 9.86}, {"genotype": "PGRN-KI", "treatment": "+", "step": 3, "value": 9.86}, {"genotype": "PGRN-KI", "treatment": "+", "step": 4, "value": 9.15}]},
             "mark": {"type": "line", "color": "#333", "strokeWidth": 0.8},
             "encoding": {"x": {"field": "genotype", "type": "nominal", "sort": null, "axis": {"title": "Gö6976", "titleFontSize": 7, "labels": false, "ticks": false, "titleAngle": 0, "titleX": -7.5, "titleY": 7, "titleAlign": "center", "titleBaseline": "middle"}}, "xOffset": {"field": "treatment", "type": "nominal", "sort": null}, "y": {"field": "value", "type": "quantitative", "axis": {"title": ["Number", "of target cross"], "titleFontSize": 7, "titleLineHeight": 8, "labelFontSize": 7, "values": [0, 2, 4, 6, 8, 10], "titlePadding": 5.7}}, "order": {"field": "step"}}},
            {"data": {"values": [{"genotype": "PGRN-KI", "value": 10.05, "label": "**"}]}, "mark": {"type": "text", "fontSize": 8.5},
             "encoding": {"x": {"field": "genotype", "type": "nominal", "sort": null, "axis": {"title": "Gö6976", "titleFontSize": 7, "labels": false, "ticks": false, "titleAngle": 0, "titleX": -7.5, "titleY": 7, "titleAlign": "center", "titleBaseline": "middle"}}, "y": {"field": "value", "type": "quantitative", "axis": {"title": ["Number", "of target cross"], "titleFontSize": 7, "titleLineHeight": 8, "labelFontSize": 7, "values": [0, 2, 4, 6, 8, 10], "titlePadding": 5.7}}, "text": {"field": "label"}}}
          ]
        },
        {
          "width": 104, "height": 70,
          "data": {"name": "freezing"},
          "layer": [
            {"mark": {"type": "bar", "stroke": "#222", "strokeWidth": 0.8},
             "encoding": {
               "x": {"field": "genotype", "type": "nominal", "sort": null, "scale": {"domain": ["B6", "PGRN-KI"], "paddingInner": 0.4, "paddingOuter": 0.21},
                 "axis": {"title": "Gö6976", "titleFontSize": 7, "labels": false, "ticks": false, "titleAngle": 0, "titleX": -13, "titleY": 7, "titleAlign": "center", "titleBaseline": "middle"}},
               "xOffset": {"field": "treatment", "type": "nominal", "sort": null, "scale": {"domain": ["–", "+"], "paddingInner": 0, "paddingOuter": 0}},
               "y": {"field": "value", "type": "quantitative", "scale": {"domain": [0, 40], "nice": false}, "axis": {"title": ["Total", "freezing time (%)"], "titleFontSize": 7, "titleLineHeight": 8, "labelFontSize": 7, "values": [0, 10, 20, 30, 40], "titlePadding": 3.7}},
               "fill": {"field": "genotype", "type": "nominal", "scale": {"domain": ["B6", "PGRN-KI"], "range": ["#ffffff", "#000000"]}, "legend": null}}},
            {"mark": {"type": "errorbar", "ticks": true, "size": 5, "thickness": 0.8, "color": "#333"},
             "encoding": {"x": {"field": "genotype", "type": "nominal", "sort": null, "axis": {"title": "Gö6976", "titleFontSize": 7, "labels": false, "ticks": false, "titleAngle": 0, "titleX": -13, "titleY": 7, "titleAlign": "center", "titleBaseline": "middle"}}, "xOffset": {"field": "treatment", "type": "nominal", "sort": null}, "y": {"field": "value", "type": "quantitative", "axis": {"title": ["Total", "freezing time (%)"], "titleFontSize": 7, "titleLineHeight": 8, "labelFontSize": 7, "values": [0, 10, 20, 30, 40], "titlePadding": 3.7}}, "yError": {"field": "sem"}}},
            {"mark": {"type": "text", "baseline": "bottom", "dy": -3.5, "fontSize": 7},
             "encoding": {"x": {"field": "genotype", "type": "nominal", "sort": null, "axis": {"title": "Gö6976", "titleFontSize": 7, "labels": false, "ticks": false, "titleAngle": 0, "titleX": -13, "titleY": 7, "titleAlign": "center", "titleBaseline": "middle"}}, "xOffset": {"field": "treatment", "type": "nominal", "sort": null}, "y": {"datum": 0, "type": "quantitative", "axis": {"title": ["Total", "freezing time (%)"], "titleFontSize": 7, "titleLineHeight": 8, "labelFontSize": 7, "values": [0, 10, 20, 30, 40], "titlePadding": 3.7}}, "text": {"field": "n"},
               "color": {"field": "genotype", "type": "nominal", "scale": {"domain": ["B6", "PGRN-KI"], "range": ["#111111", "#ffffff"]}, "legend": null}}},
            {"mark": {"type": "text", "baseline": "middle", "dy": 7, "fontSize": 7.5},
             "encoding": {"x": {"field": "genotype", "type": "nominal", "sort": null, "axis": {"title": "Gö6976", "titleFontSize": 7, "labels": false, "ticks": false, "titleAngle": 0, "titleX": -13, "titleY": 7, "titleAlign": "center", "titleBaseline": "middle"}}, "xOffset": {"field": "treatment", "type": "nominal", "sort": null}, "y": {"datum": 0, "type": "quantitative", "axis": {"title": ["Total", "freezing time (%)"], "titleFontSize": 7, "titleLineHeight": 8, "labelFontSize": 7, "values": [0, 10, 20, 30, 40], "titlePadding": 3.7}}, "text": {"field": "treatment"}}},
            {"data": {"values": [{"genotype": "PGRN-KI", "treatment": "–", "step": 1, "value": 37.14}, {"genotype": "PGRN-KI", "treatment": "–", "step": 2, "value": 39.43}, {"genotype": "PGRN-KI", "treatment": "+", "step": 3, "value": 39.43}, {"genotype": "PGRN-KI", "treatment": "+", "step": 4, "value": 37.14}]},
             "mark": {"type": "line", "color": "#333", "strokeWidth": 0.8},
             "encoding": {"x": {"field": "genotype", "type": "nominal", "sort": null, "axis": {"title": "Gö6976", "titleFontSize": 7, "labels": false, "ticks": false, "titleAngle": 0, "titleX": -13, "titleY": 7, "titleAlign": "center", "titleBaseline": "middle"}}, "xOffset": {"field": "treatment", "type": "nominal", "sort": null}, "y": {"field": "value", "type": "quantitative", "axis": {"title": ["Total", "freezing time (%)"], "titleFontSize": 7, "titleLineHeight": 8, "labelFontSize": 7, "values": [0, 10, 20, 30, 40], "titlePadding": 3.7}}, "order": {"field": "step"}}},
            {"data": {"values": [{"genotype": "PGRN-KI", "value": 40.86, "label": "*"}]}, "mark": {"type": "text", "fontSize": 8.5},
             "encoding": {"x": {"field": "genotype", "type": "nominal", "sort": null, "axis": {"title": "Gö6976", "titleFontSize": 7, "labels": false, "ticks": false, "titleAngle": 0, "titleX": -13, "titleY": 7, "titleAlign": "center", "titleBaseline": "middle"}}, "y": {"field": "value", "type": "quantitative", "axis": {"title": ["Total", "freezing time (%)"], "titleFontSize": 7, "titleLineHeight": 8, "labelFontSize": 7, "values": [0, 10, 20, 30, 40], "titlePadding": 3.7}}, "text": {"field": "label"}}}
          ]
        }
      ],
      "spacing": 3
    }
  ]
}
